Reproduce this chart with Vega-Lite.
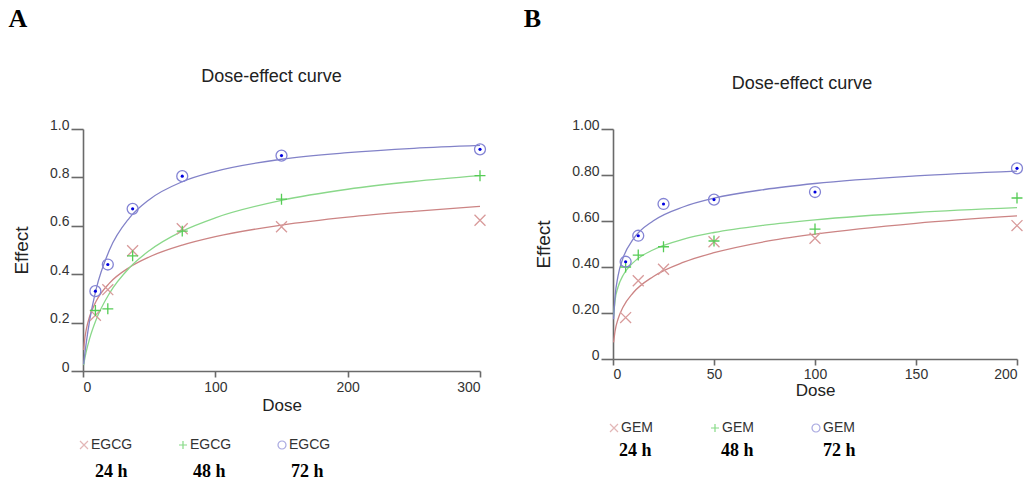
{
  "$schema": "https://vega.github.io/schema/vega-lite/v6.json",
  "background": "white",
  "padding": {"left": 8, "top": 6, "right": 4, "bottom": 0},
  "config": {
    "view": {"stroke": null},
    "font": "Liberation Sans",
    "axis": {"domainColor": "#6a6a6a", "domainWidth": 1.6, "tickColor": "#6a6a6a", "tickWidth": 1.6, "labelFont": "Liberation Sans", "labelFontSize": 14, "labelColor": "#333333", "titleFont": "Liberation Sans", "titleFontWeight": "normal", "titleColor": "#222222", "grid": false},
    "title": {"font": "Liberation Sans", "fontSize": 18, "fontWeight": "normal", "color": "#222222"}
  },
  "datasets": {
    "egcgPts": [
      {"t": "24 h", "d": 9.375, "e": 0.23}, {"t": "24 h", "d": 18.75, "e": 0.336}, {"t": "24 h", "d": 37.5, "e": 0.497}, {"t": "24 h", "d": 75, "e": 0.588}, {"t": "24 h", "d": 150, "e": 0.596}, {"t": "24 h", "d": 300, "e": 0.623},
      {"t": "48 h", "d": 9.375, "e": 0.25}, {"t": "48 h", "d": 18.75, "e": 0.257}, {"t": "48 h", "d": 37.5, "e": 0.476}, {"t": "48 h", "d": 75, "e": 0.578}, {"t": "48 h", "d": 150, "e": 0.71}, {"t": "48 h", "d": 300, "e": 0.807},
      {"t": "72 h", "d": 9.375, "e": 0.33}, {"t": "72 h", "d": 18.75, "e": 0.44}, {"t": "72 h", "d": 37.5, "e": 0.67}, {"t": "72 h", "d": 75, "e": 0.805}, {"t": "72 h", "d": 150, "e": 0.89}, {"t": "72 h", "d": 300, "e": 0.916}
    ],
    "egcgCurve": [
      {"t": "24 h", "d": 0.5, "e": 0.087}, {"t": "24 h", "d": 1, "e": 0.117}, {"t": "24 h", "d": 2.5, "e": 0.172}, {"t": "24 h", "d": 5, "e": 0.225}, {"t": "24 h", "d": 10, "e": 0.289}, {"t": "24 h", "d": 20, "e": 0.363}, {"t": "24 h", "d": 35, "e": 0.428}, {"t": "24 h", "d": 50, "e": 0.471}, {"t": "24 h", "d": 75, "e": 0.52}, {"t": "24 h", "d": 100, "e": 0.555}, {"t": "24 h", "d": 150, "e": 0.603}, {"t": "24 h", "d": 200, "e": 0.636}, {"t": "24 h", "d": 250, "e": 0.66}, {"t": "24 h", "d": 300, "e": 0.68},
      {"t": "48 h", "d": 0.5, "e": 0.024}, {"t": "48 h", "d": 1, "e": 0.041}, {"t": "48 h", "d": 2.5, "e": 0.081}, {"t": "48 h", "d": 5, "e": 0.134}, {"t": "48 h", "d": 10, "e": 0.213}, {"t": "48 h", "d": 20, "e": 0.321}, {"t": "48 h", "d": 35, "e": 0.426}, {"t": "48 h", "d": 50, "e": 0.497}, {"t": "48 h", "d": 75, "e": 0.578}, {"t": "48 h", "d": 100, "e": 0.633}, {"t": "48 h", "d": 150, "e": 0.705}, {"t": "48 h", "d": 200, "e": 0.751}, {"t": "48 h", "d": 250, "e": 0.783}, {"t": "48 h", "d": 300, "e": 0.807},
      {"t": "72 h", "d": 0.5, "e": 0.028}, {"t": "72 h", "d": 1, "e": 0.053}, {"t": "72 h", "d": 2.5, "e": 0.118}, {"t": "72 h", "d": 5, "e": 0.208}, {"t": "72 h", "d": 10, "e": 0.339}, {"t": "72 h", "d": 20, "e": 0.5}, {"t": "72 h", "d": 35, "e": 0.632}, {"t": "72 h", "d": 50, "e": 0.708}, {"t": "72 h", "d": 75, "e": 0.782}, {"t": "72 h", "d": 100, "e": 0.825}, {"t": "72 h", "d": 150, "e": 0.875}, {"t": "72 h", "d": 200, "e": 0.902}, {"t": "72 h", "d": 250, "e": 0.92}, {"t": "72 h", "d": 300, "e": 0.932}
    ],
    "gemPts": [
      {"t": "24 h", "d": 6.25, "e": 0.18}, {"t": "24 h", "d": 12.5, "e": 0.34}, {"t": "24 h", "d": 25, "e": 0.39}, {"t": "24 h", "d": 50, "e": 0.51}, {"t": "24 h", "d": 100, "e": 0.525}, {"t": "24 h", "d": 200, "e": 0.58},
      {"t": "48 h", "d": 6.25, "e": 0.40}, {"t": "48 h", "d": 12.5, "e": 0.452}, {"t": "48 h", "d": 25, "e": 0.488}, {"t": "48 h", "d": 50, "e": 0.513}, {"t": "48 h", "d": 100, "e": 0.565}, {"t": "48 h", "d": 200, "e": 0.70},
      {"t": "72 h", "d": 6.25, "e": 0.423}, {"t": "72 h", "d": 12.5, "e": 0.536}, {"t": "72 h", "d": 25, "e": 0.674}, {"t": "72 h", "d": 50, "e": 0.693}, {"t": "72 h", "d": 100, "e": 0.726}, {"t": "72 h", "d": 200, "e": 0.829}
    ],
    "gemCurve": [
      {"t": "24 h", "d": 0.3, "e": 0.072}, {"t": "24 h", "d": 1, "e": 0.12}, {"t": "24 h", "d": 2.5, "e": 0.174}, {"t": "24 h", "d": 5, "e": 0.226}, {"t": "24 h", "d": 10, "e": 0.288}, {"t": "24 h", "d": 20, "e": 0.359}, {"t": "24 h", "d": 35, "e": 0.421}, {"t": "24 h", "d": 50, "e": 0.462}, {"t": "24 h", "d": 75, "e": 0.51}, {"t": "24 h", "d": 100, "e": 0.543}, {"t": "24 h", "d": 150, "e": 0.59}, {"t": "24 h", "d": 200, "e": 0.622},
      {"t": "48 h", "d": 0.3, "e": 0.185}, {"t": "48 h", "d": 1, "e": 0.253}, {"t": "48 h", "d": 2.5, "e": 0.313}, {"t": "48 h", "d": 5, "e": 0.364}, {"t": "48 h", "d": 10, "e": 0.419}, {"t": "48 h", "d": 20, "e": 0.475}, {"t": "48 h", "d": 35, "e": 0.521}, {"t": "48 h", "d": 50, "e": 0.55}, {"t": "48 h", "d": 75, "e": 0.582}, {"t": "48 h", "d": 100, "e": 0.605}, {"t": "48 h", "d": 150, "e": 0.637}, {"t": "48 h", "d": 200, "e": 0.658},
      {"t": "72 h", "d": 0.3, "e": 0.173}, {"t": "72 h", "d": 1, "e": 0.269}, {"t": "72 h", "d": 2.5, "e": 0.361}, {"t": "72 h", "d": 5, "e": 0.44}, {"t": "72 h", "d": 10, "e": 0.521}, {"t": "72 h", "d": 20, "e": 0.601}, {"t": "72 h", "d": 35, "e": 0.662}, {"t": "72 h", "d": 50, "e": 0.699}, {"t": "72 h", "d": 75, "e": 0.737}, {"t": "72 h", "d": 100, "e": 0.763}, {"t": "72 h", "d": 150, "e": 0.796}, {"t": "72 h", "d": 200, "e": 0.817}
    ]
  },
  "spacing": 34,
  "resolve": {"scale": {"color": "independent", "shape": "independent", "opacity": "independent", "stroke": "independent"}, "legend": {"color": "independent", "shape": "independent", "opacity": "independent"}},
  "hconcat": [
    {
      "title": {"text": "A", "anchor": "start", "font": "Liberation Serif", "fontWeight": "bold", "fontSize": 26, "color": "#000000", "offset": 36, "dx": -4},
      "vconcat": [
        {
          "title": {"text": "Dose-effect curve", "offset": 32, "dx": -10},
          "width": 397,
          "height": 242,
          "layer": [
            {
              "data": {"name": "egcgCurve"},
              "mark": {"type": "line", "interpolate": "monotone", "strokeWidth": 1.3},
              "encoding": {
                "x": {"field": "d", "type": "quantitative", "scale": {"domain": [0, 300]}, "axis": {"values": [0, 100, 200, 300], "tickSize": 6, "labelPadding": 3, "title": "Dose", "titleFontSize": 17, "titlePadding": 3}},
                "y": {"field": "e", "type": "quantitative", "scale": {"domain": [0, 1]}, "axis": {"values": [0, 0.2, 0.4, 0.6, 0.8, 1.0], "labelExpr": "datum.value == 0 ? '0' : format(datum.value, '.1f')", "labelBaseline": "alphabetic", "tickSize": 12, "labelPadding": 2, "title": "Effect", "titleFontSize": 19, "titlePadding": 18}},
                "stroke": {"field": "t", "type": "nominal", "scale": {"range": ["#cc8484", "#8ad88a", "#8282c8"]}, "legend": null}
              }
            },
            {
              "data": {"name": "egcgPts"},
              "mark": {"type": "point", "filled": false, "strokeWidth": 1.3, "size": 120},
              "encoding": {
                "x": {"field": "d", "type": "quantitative"},
                "y": {"field": "e", "type": "quantitative"},
                "color": {"field": "t", "type": "nominal", "scale": {"range": ["#d89a9a", "#55cc55", "#8484d4"]}, "legend": {"title": null, "orient": "none", "legendX": -6, "legendY": 309, "direction": "horizontal", "columns": 3, "columnPadding": 43, "symbolSize": 64, "symbolStrokeWidth": 1.2, "labelOffset": 0, "labelFont": "Liberation Sans", "labelFontSize": 14, "labelColor": "#333333", "labelExpr": "'EGCG'", "padding": 0}},
                "shape": {"field": "t", "type": "nominal", "scale": {"range": ["M-1,-1L1,1M-1,1L1,-1", "M-1,0L1,0M0,-1L0,1", "circle"]}, "legend": {"title": null, "orient": "none", "legendX": -6, "legendY": 309, "direction": "horizontal", "columns": 3, "columnPadding": 43, "symbolSize": 64, "symbolStrokeWidth": 1.2, "labelOffset": 0, "labelFont": "Liberation Sans", "labelFontSize": 14, "labelColor": "#333333", "labelExpr": "'EGCG'", "padding": 0}},
                "opacity": {"field": "t", "type": "nominal", "scale": {"domain": ["24 h", "48 h", "72 h"], "range": [1, 1, 1]}, "legend": {"title": null, "orient": "none", "legendX": -6, "legendY": 334, "direction": "horizontal", "columns": 3, "columnPadding": 47, "symbolSize": 0, "symbolOpacity": 0, "symbolStrokeWidth": 0, "labelOffset": 0, "labelFont": "Liberation Serif", "labelFontWeight": "bold", "labelFontSize": 18, "labelColor": "#000000", "padding": 0}}
              }
            },
            {
              "data": {"name": "egcgPts"},
              "transform": [{"filter": "datum.t == '72 h'"}],
              "mark": {"type": "point", "filled": true, "size": 10, "color": "#0000e0", "opacity": 1},
              "encoding": {
                "x": {"field": "d", "type": "quantitative"},
                "y": {"field": "e", "type": "quantitative"}
              }
            }
          ]
        }
      ]
    },
    {
      "title": {"text": "B", "anchor": "start", "font": "Liberation Serif", "fontWeight": "bold", "fontSize": 26, "color": "#000000", "offset": 43, "dx": -11},
      "vconcat": [
        {
          "title": {"text": "Dose-effect curve", "offset": 25, "dx": -13},
          "width": 404,
          "height": 230,
          "layer": [
            {
              "data": {"name": "gemCurve"},
              "mark": {"type": "line", "interpolate": "monotone", "strokeWidth": 1.3},
              "encoding": {
                "x": {"field": "d", "type": "quantitative", "scale": {"domain": [0, 200]}, "axis": {"values": [0, 50, 100, 150, 200], "tickSize": 6, "labelPadding": 2, "title": "Dose", "titleFontSize": 17, "titlePadding": 1}},
                "y": {"field": "e", "type": "quantitative", "scale": {"domain": [0, 1]}, "axis": {"values": [0, 0.2, 0.4, 0.6, 0.8, 1.0], "labelExpr": "datum.value == 0 ? '0' : format(datum.value, '.2f')", "labelBaseline": "alphabetic", "tickSize": 12, "labelPadding": 2, "title": "Effect", "titleFontSize": 19, "titlePadding": 18}},
                "stroke": {"field": "t", "type": "nominal", "scale": {"range": ["#cc8484", "#8ad88a", "#8282c8"]}, "legend": null}
              }
            },
            {
              "data": {"name": "gemPts"},
              "mark": {"type": "point", "filled": false, "strokeWidth": 1.3, "size": 120},
              "encoding": {
                "x": {"field": "d", "type": "quantitative"},
                "y": {"field": "e", "type": "quantitative"},
                "color": {"field": "t", "type": "nominal", "scale": {"range": ["#d89a9a", "#55cc55", "#8484d4"]}, "legend": {"title": null, "orient": "none", "legendX": -6, "legendY": 292, "direction": "horizontal", "columns": 3, "columnPadding": 55, "symbolSize": 64, "symbolStrokeWidth": 1.2, "labelOffset": 0, "labelFont": "Liberation Sans", "labelFontSize": 14, "labelColor": "#333333", "labelExpr": "'GEM'", "padding": 0}},
                "shape": {"field": "t", "type": "nominal", "scale": {"range": ["M-1,-1L1,1M-1,1L1,-1", "M-1,0L1,0M0,-1L0,1", "circle"]}, "legend": {"title": null, "orient": "none", "legendX": -6, "legendY": 292, "direction": "horizontal", "columns": 3, "columnPadding": 55, "symbolSize": 64, "symbolStrokeWidth": 1.2, "labelOffset": 0, "labelFont": "Liberation Sans", "labelFontSize": 14, "labelColor": "#333333", "labelExpr": "'GEM'", "padding": 0}},
                "opacity": {"field": "t", "type": "nominal", "scale": {"domain": ["24 h", "48 h", "72 h"], "range": [1, 1, 1]}, "legend": {"title": null, "orient": "none", "legendX": -12, "legendY": 313, "direction": "horizontal", "columns": 3, "columnPadding": 51, "symbolSize": 0, "symbolOpacity": 0, "symbolStrokeWidth": 0, "labelOffset": 0, "labelFont": "Liberation Serif", "labelFontWeight": "bold", "labelFontSize": 18, "labelColor": "#000000", "padding": 0}}
              }
            },
            {
              "data": {"name": "gemPts"},
              "transform": [{"filter": "datum.t == '72 h'"}],
              "mark": {"type": "point", "filled": true, "size": 10, "color": "#0000e0", "opacity": 1},
              "encoding": {
                "x": {"field": "d", "type": "quantitative"},
                "y": {"field": "e", "type": "quantitative"}
              }
            }
          ]
        }
      ]
    }
  ]
}
